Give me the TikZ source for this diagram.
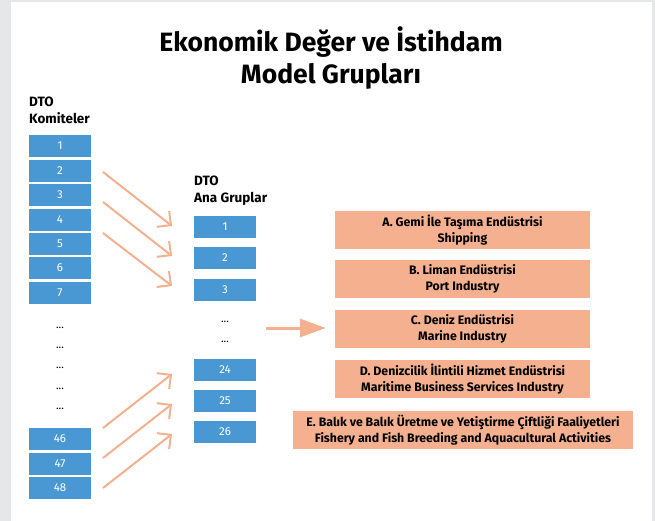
\documentclass[tikz,border=0pt]{standalone}
\usepackage{fontspec}
\setmainfont{Fira Sans}
\usetikzlibrary{arrows.meta}
\definecolor{bluebox}{HTML}{4A98D3}
\definecolor{orbox}{HTML}{F4B08F}
\definecolor{bggray}{HTML}{E6E7E8}
\begin{document}
\begin{tikzpicture}[x=1pt,y=-1pt,
  num/.style={fill=bluebox,text=white,minimum width=62pt,minimum height=22pt,inner sep=0pt,font=\fontsize{11.5}{13}\selectfont},
  dots/.style={font=\fontsize{11}{13}\selectfont,inner sep=0pt},
  grp/.style={fill=orbox,minimum height=38pt,inner sep=0pt,align=center,font=\bfseries\fontsize{12.3}{15.5}\selectfont},
  lbl/.style={anchor=north west,inner sep=0pt,align=left,font=\bfseries\fontsize{13.5}{17}\selectfont},
  conn/.style={orbox,line width=2pt,-{Straight Barb[length=10pt,width=20pt,line width=2pt]}},
  big/.style={orbox,line width=3pt,-{Triangle[length=26pt,width=18pt]}}]
\fill[bggray] (0,0) rectangle (655,521);
\fill[white] (11,2) rectangle (652,521);
\useasboundingbox (0,0) rectangle (655,521);
\node[align=center,font=\bfseries\fontsize{26.5}{32}\selectfont,inner sep=0pt] (title) at (331,58) {Ekonomik Değer ve İstihdam\\Model Grupları};
\node[lbl] (lk) at (29,97) {DTO\\Komiteler};
\node[lbl] (la) at (194,176) {DTO\\Ana Gruplar};
% left column
\node[num] (k1) at (60,146) {1};
\node[num] (k2) at (60,171) {2};
\node[num] (k3) at (60,195) {3};
\node[num] (k4) at (60,220) {4};
\node[num] (k5) at (60,244) {5};
\node[num] (k6) at (60,268) {6};
\node[num] (k7) at (60,293) {7};
\node[dots] (kd1) at (60,328) {...};
\node[dots] (kd2) at (60,348) {...};
\node[dots] (kd3) at (60,368) {...};
\node[dots] (kd4) at (60,389) {...};
\node[dots] (kd5) at (60,409) {...};
\node[num] (k46) at (60,439) {46};
\node[num] (k47) at (60,464) {47};
\node[num] (k48) at (60,488) {48};
% middle column
\node[num] (g1) at (225,227) {1};
\node[num] (g2) at (225,258) {2};
\node[num] (g3) at (225,290) {3};
\node[dots] (gd1) at (225,322) {...};
\node[dots] (gd2) at (225,342) {...};
\node[num] (g24) at (225,370) {24};
\node[num] (g25) at (225,401) {25};
\node[num] (g26) at (225,432) {26};
% right column
\node[grp,minimum width=255pt] (A) at (462.5,230) {A. Gemi İle Taşıma Endüstrisi\\Shipping};
\node[grp,minimum width=255pt] (B) at (462.5,279) {B. Liman Endüstrisi\\Port Industry};
\node[grp,minimum width=255pt] (C) at (462.5,329) {C. Deniz Endüstrisi\\Marine Industry};
\node[grp,minimum width=255pt] (D) at (462.5,379) {D. Denizcilik İlintili Hizmet Endüstrisi\\Maritime Business Services Industry};
\node[grp,minimum width=340pt] (E) at (463,430) {E. Balık ve Balık Üretme ve Yetiştirme Çiftliği Faaliyetleri\\Fishery and Fish Breeding and Aquacultural Activities};
% connectors
\coordinate (s1) at (103,172); \coordinate (t1) at (172,226);
\coordinate (s2) at (103,202); \coordinate (t2) at (172,256);
\coordinate (s3) at (103,233); \coordinate (t3) at (172,286);
\coordinate (s4) at (103,428); \coordinate (t4) at (172,374);
\coordinate (s5) at (103,458); \coordinate (t5) at (172,404);
\coordinate (s6) at (103,488); \coordinate (t6) at (172,434);
\draw[conn] (s1) -- (t1);
\draw[conn] (s2) -- (t2);
\draw[conn] (s3) -- (t3);
\draw[conn] (s4) -- (t4);
\draw[conn] (s5) -- (t5);
\draw[conn] (s6) -- (t6);
\coordinate (bs) at (266,328);
\draw[big,shorten >=9pt] (bs) -- (C.west |- bs);
\end{tikzpicture}
\end{document}
